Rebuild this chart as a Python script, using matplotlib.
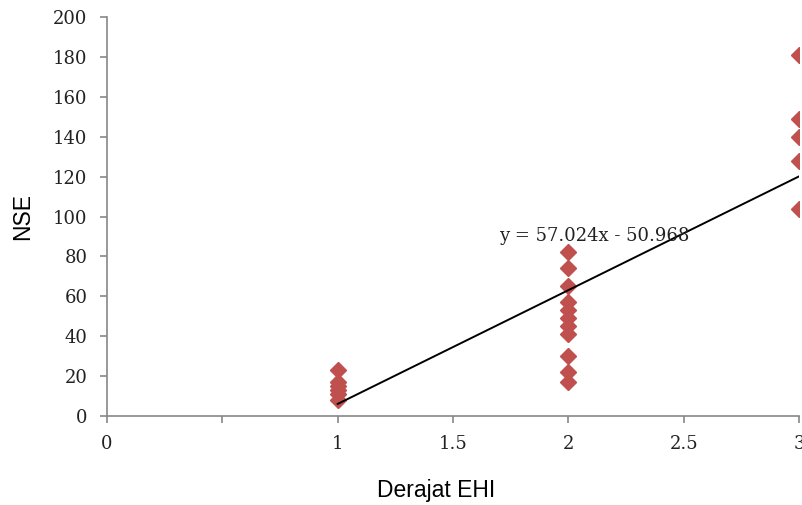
import numpy as np
import matplotlib.pyplot as plt

# data
x1 = [1, 1, 1, 1, 1, 1]
nse1 = [8, 11, 13, 15, 17, 23]
x2 = [2] * 11
nse2 = [82, 74, 65, 57, 53, 49, 45, 41, 30, 22, 17]
x3 = [3, 3, 3, 3, 3]
nse3 = [181, 149, 140, 128, 104]

slope = 57.024
intercept = -50.968

xticks = [0, 0.5, 1, 1.5, 2, 2.5, 3]
xticklabels = ['0', '', '1', '1.5', '2', '2.5', '3']
yticks = np.arange(0, 201, 20)

x = np.array(x1 + x2 + x3)
y = np.array(nse1 + nse2 + nse3)

fig = plt.figure(figsize=(8.03, 5.05), dpi=100)
ax = fig.add_axes([0.1333, 0.1762, 0.8617, 0.7901])

ax.plot(x, y, linestyle='none', marker='D', ms=8.5, color='#C0504D', clip_on=True)

xl = np.array([1, 3])
ax.plot(xl, slope * xl + intercept, color='black', lw=1.4)
ax.text(1.70, 90, f'y = {slope}x - {abs(intercept)}', fontsize=13,
        family='DejaVu Serif', color='#222222', ha='left', va='center')

ax.set_xlim(0, 3)
ax.set_ylim(0, 200)
ax.set_xticks(xticks)
ax.set_xticklabels(xticklabels)
ax.set_yticks(yticks)

for side in ['top', 'right']:
    ax.spines[side].set_visible(False)
for side in ['left', 'bottom']:
    ax.spines[side].set_color('#888888')
    ax.spines[side].set_linewidth(1.2)

ax.tick_params(direction='out', length=5, color='#888888', width=1.2)
ax.tick_params(axis='x', pad=9)
ax.tick_params(axis='y', pad=9)
for lab in ax.get_xticklabels() + ax.get_yticklabels():
    lab.set_family('DejaVu Serif')
    lab.set_fontsize(13)
    lab.set_color('#222222')

ax.set_xlabel('Derajat EHI', family='Liberation Sans', fontsize=16.5)
ax.xaxis.set_label_coords(0.475, -0.158)
ax.set_ylabel('NSE', family='Liberation Sans', fontsize=16.5, labelpad=14)

fig.savefig('out.png', dpi=100)
